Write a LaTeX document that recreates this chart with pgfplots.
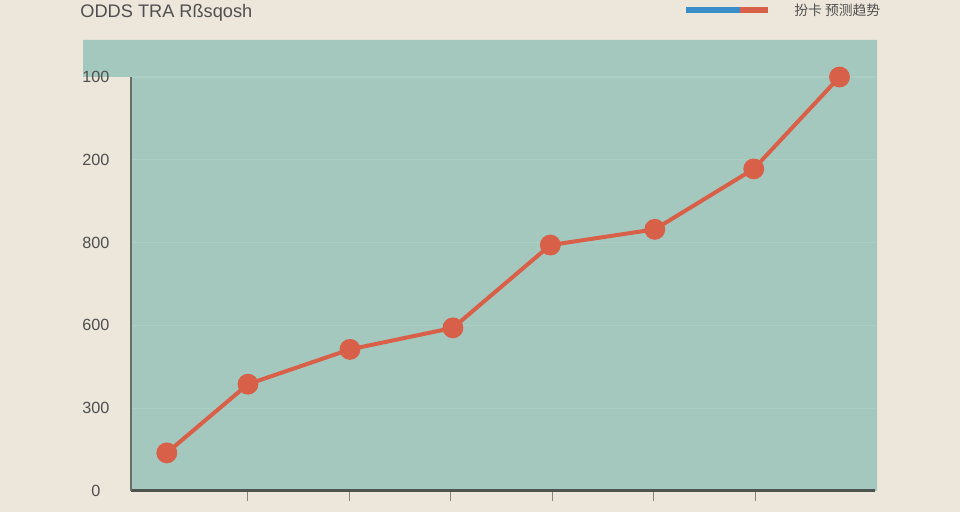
\documentclass[border=0pt]{standalone}
\usepackage{pgfplots}
\pgfplotsset{compat=1.18}
\usepackage{fontspec}
\setmainfont{Liberation Sans}
\newfontfamily\cjk{Noto Sans CJK SC}
\definecolor{bgbeige}{RGB}{236,231,218}
\definecolor{teal1}{RGB}{165,200,190}
\definecolor{gridc}{RGB}{173,206,196}
\definecolor{lineRed}{RGB}{216,96,72}
\definecolor{legBlue}{RGB}{58,142,200}
\definecolor{txt}{RGB}{80,80,80}
\definecolor{axc}{RGB}{78,84,78}
\begin{document}
\begin{tikzpicture}
% background (1px = 0.5pt)
\fill[bgbeige] (0,0) rectangle (480pt,256pt);
\fill[teal1] (41.5pt,236pt) -- (438.5pt,236pt) -- (438.5pt,10.5pt) -- (65pt,10.5pt) -- (65pt,217.5pt) -- (41.5pt,217.5pt) -- cycle;
% title
\node[anchor=west, text=txt, font=\fontsize{9.1pt}{10pt}\selectfont, inner sep=0pt] at (40pt,249.5pt) {ODDS TRA Rßsqosh};
% legend
\draw[legBlue, line width=2.6pt] (343pt,251pt) -- (370pt,251pt);
\draw[lineRed, line width=2.6pt] (370pt,251pt) -- (384pt,251pt);
\node[anchor=west, text=txt, font=\cjk\fontsize{6.9pt}{8pt}\selectfont, inner sep=0pt] at (397pt,251pt) {扮卡 预测趋势};
\begin{axis}[
  at={(65.5pt,10.5pt)}, anchor=south west,
  scale only axis, width=372pt, height=207pt,
  xmin=-0.153, xmax=7.18, ymin=0, ymax=500,
  axis x line=bottom, axis y line=left,
  axis line style={-},
  x axis line style={axc, line width=1.5pt},
  y axis line style={axc!85, line width=1pt},
  xtick={1,2,3,4,5,6}, xticklabels={},
  x tick style={axc!70, line width=0.5pt},
  major tick length=5pt,
  xtick align=outside,
  ytick={0,100,200,300,400,500},
  yticklabels={0,300,600,800,200,100},
  y tick style={draw=none},
  yticklabel style={text=txt, font=\fontsize{8.1pt}{9pt}\selectfont, anchor=center, text width=20pt, align=center, xshift=-15pt},
  /pgf/number format/assume math mode=true,
  ymajorgrids, major grid style={gridc, line width=0.6pt},
  clip=false,
]
\addplot[lineRed, line width=2pt, mark=*, mark size=4.2pt, mark options={fill=lineRed, draw=lineRed}]
  coordinates {(0.20,46) (1,129) (2.005,171) (3.02,197) (3.98,297) (5.01,316) (5.985,389) (6.83,500)};
\end{axis}
\end{tikzpicture}
\end{document}
